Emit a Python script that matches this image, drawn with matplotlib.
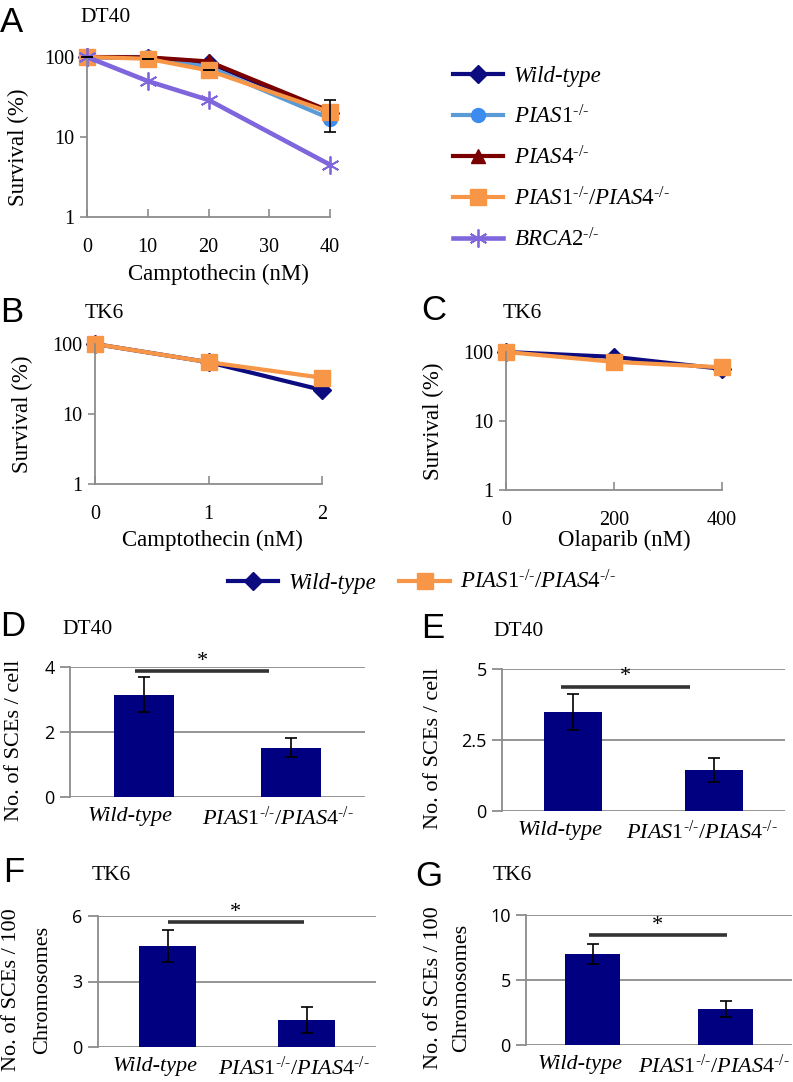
import matplotlib
matplotlib.use("Agg")
import matplotlib.pyplot as plt
from matplotlib.ticker import NullLocator

plt.rcParams["font.family"] = "Liberation Serif"
plt.rcParams["mathtext.fontset"] = "custom"
plt.rcParams["mathtext.rm"] = "Liberation Serif"
plt.rcParams["mathtext.it"] = "Liberation Serif:italic"

# ---- data -------------------------------------------------------------
# A: DT40 camptothecin survival (%)
dose_a = [0, 10, 20, 40]
wt_a = [100, 98, 85, 20]
pias1_a = [100, 100, 75, 17]
pias4_a = [100, 99, 88, 21]
dko_a = [100, 95, 68, 20.4]
dko_a_err = [0, 0, 0, 9]
brca2_a = [100, 50, 29, 4.5]

# B: TK6 camptothecin
dose_b = [0, 1, 2]
wt_b = [100, 55, 22]
dko_b = [100, 55, 33]

# C: TK6 olaparib
dose_c = [0, 200, 400]
wt_c = [100, 85, 57]
dko_c = [100, 72, 60]

# D-G: SCE counts (wild-type, double knockout)
sce_d = [3.15, 1.52]
sce_d_err = [0.53, 0.30]
sce_e = [3.48, 1.45]
sce_e_err = [0.64, 0.42]
sce_f = [4.63, 1.25]
sce_f_err = [0.75, 0.60]
sce_g = [7.0, 2.77]
sce_g_err = [0.77, 0.62]

KO = "^{\\mathit{\u2010/\u2010}}"   # hyphen, not a math minus
WT_LABEL = "Wild-type"
P1_LABEL = r"$\mathit{PIAS1}" + KO + "$"
P4_LABEL = r"$\mathit{PIAS4}" + KO + "$"
DKO_LABEL = r"$\mathit{PIAS1}" + KO + r"\mathit{/PIAS4}" + KO + "$"
BR_LABEL = r"$\mathit{BRCA2}" + KO + "$"
categories = [WT_LABEL, DKO_LABEL]

# ---- styles -------------------------------------------------------------
C_WT = "#0c0c80"
C_P1 = "#5b9bd5"
C_P4 = "#7a0000"
C_DKO = "#f79646"
C_BR = "#7f66dd"
C_BAR = "#000080"
C_AXIS = "#8c8c8c"

W, H = 793, 1082
fig = plt.figure(figsize=(W / 100, H / 100), dpi=100)


def add_ax(l, t, r, b):
    return fig.add_axes([l / W, 1 - b / H, (r - l) / W, (b - t) / H])


def put(x, y, s, **kw):
    kw.setdefault("ha", "center")
    kw.setdefault("va", "center")
    fig.text(x / W, 1 - y / H, s, **kw)


def style_line_ax(ax, xticks, xlim):
    ax.set_yscale("log")
    ax.set_ylim(1, 100)
    ax.set_yticks([1, 10, 100])
    ax.set_yticklabels(["1", "10", "100"])
    ax.yaxis.set_minor_locator(NullLocator())
    ax.set_xlim(*xlim)
    ax.set_xticks(xticks)
    ax.set_xticklabels([str(v) for v in xticks])
    for s in ("top", "right"):
        ax.spines[s].set_visible(False)
    for s in ("left", "bottom"):
        ax.spines[s].set_color(C_AXIS)
        ax.spines[s].set_linewidth(1.3)
    ax.tick_params(axis="x", direction="in", length=6, width=1.2,
                   color=C_AXIS, labelsize=14.5, pad=15)
    ax.tick_params(axis="y", direction="out", length=5, width=1.2,
                   color=C_AXIS, labelsize=14.5, pad=4)
    ax.patch.set_alpha(0)


def line(ax, x, y, color, marker, ms, lw=3.0, **kw):
    return ax.plot(x, y, color=color, lw=lw, marker=marker, ms=ms,
                   clip_on=False, **kw)[0]


LEG_PROP = {"style": "italic", "size": 16.5}

# ---- A ------------------------------------------------------------------
ax_a = add_ax(87, 57, 330, 217)
h_wt = line(ax_a, dose_a, wt_a, C_WT, "D", 9, label=WT_LABEL)
h_p1 = line(ax_a, dose_a, pias1_a, C_P1, "o", 10, mfc="#3c8cf0",
            mec="#3c8cf0", label=P1_LABEL)
h_p4 = line(ax_a, dose_a, pias4_a, C_P4, "^", 10, label=P4_LABEL)
h_dko = line(ax_a, dose_a, dko_a, C_DKO, "s", 11, label=DKO_LABEL)
ax_a.errorbar(dose_a, dko_a, yerr=dko_a_err, fmt="none", ecolor="black",
              elinewidth=1.2, capsize=4, capthick=1.2, clip_on=False,
              zorder=5)
h_br = line(ax_a, dose_a, brca2_a, C_BR, (6, 2, 0), 13, lw=3.3,
            mew=1.3, label=BR_LABEL)
style_line_ax(ax_a, [0, 10, 20, 30, 40], (0, 40))
put(18, 147, "Survival (%)", rotation=90, fontsize=16.5)
put(218, 274, "Camptothecin (nM)", fontsize=16.5)
put(0, 22, "A", ha="left", family="Liberation Sans", fontsize=25)
put(80, 18, "DT40", ha="left", fontsize=15.5)

fig.legend([h_wt, h_p1, h_p4, h_dko, h_br],
           [WT_LABEL, P1_LABEL, P4_LABEL, DKO_LABEL, BR_LABEL],
           loc="upper left", bbox_to_anchor=(453 / W, 1 - 66 / H),
           frameon=False, borderpad=0, borderaxespad=0,
           handlelength=2.2, handletextpad=0.45, labelspacing=0.78,
           prop=LEG_PROP)

# ---- B ------------------------------------------------------------------
ax_b = add_ax(95, 344, 322, 484)
hb_wt = line(ax_b, dose_b, wt_b, C_WT, "D", 9)
hb_dko = line(ax_b, dose_b, dko_b, C_DKO, "s", 11)
style_line_ax(ax_b, dose_b, (0, 2))
put(22, 414, "Survival (%)", rotation=90, fontsize=16.5)
put(212, 540, "Camptothecin (nM)", fontsize=16.5)
put(0, 312, "B", ha="left", family="Liberation Sans", fontsize=25)
put(85, 313, "TK6", ha="left", fontsize=15.5)

# ---- C ------------------------------------------------------------------
ax_c = add_ax(506, 352, 722, 490)
line(ax_c, dose_c, wt_c, C_WT, "D", 9)
line(ax_c, dose_c, dko_c, C_DKO, "s", 11)
style_line_ax(ax_c, dose_c, (0, 400))
put(433, 421, "Survival (%)", rotation=90, fontsize=16.5)
put(624, 540, "Olaparib (nM)", fontsize=16.5)
put(421, 310, "C", ha="left", family="Liberation Sans", fontsize=25)
put(503, 313, "TK6", ha="left", fontsize=15.5)

fig.legend([hb_wt, hb_dko], [WT_LABEL, DKO_LABEL], ncol=2,
           loc="center left", bbox_to_anchor=(228 / W, 1 - 582 / H),
           frameon=False, borderpad=0, borderaxespad=0,
           handlelength=2.2, handletextpad=0.45, columnspacing=1.0,
           prop=LEG_PROP)


# ---- bar panels ---------------------------------------------------------
def bar_panel(box, vals, errs, ymax, yticks, yticklabels, sig, ylab,
              ylab_x, letter, letter_xy, title_xy, title):
    ax = add_ax(*box)
    x = [0, 1]
    ax.bar(x, vals, width=0.41, color=C_BAR, zorder=2,
           yerr=errs, error_kw=dict(ecolor="black", elinewidth=1.2,
                                    capsize=4, capthick=1.2, zorder=3))
    ax.set_xlim(-0.5, 1.5)
    ax.set_ylim(0, ymax)
    ax.set_yticks(yticks)
    ax.set_yticklabels(yticklabels, family="Open Sans")
    ax.yaxis.grid(True, color=C_AXIS, lw=1.3)
    ax.set_axisbelow(True)
    for s in ("top", "right", "bottom"):
        ax.spines[s].set_visible(False)
    ax.spines["left"].set_color(C_AXIS)
    ax.spines["left"].set_linewidth(1.3)
    ax.tick_params(axis="y", length=7, width=1.3, color=C_AXIS,
                   labelsize=13, pad=4)
    # category labels sit a little left of the bar centres in the original
    ax.set_xticks([v - 0.09 for v in x])
    ax.set_xticklabels(categories, fontstyle="italic", fontsize=16)
    ax.tick_params(axis="x", length=0, pad=7)
    ax.patch.set_alpha(0)
    x0, x1, y_sig = sig
    ax.plot([x0, x1], [y_sig, y_sig], color="#333333", lw=2.6,
            clip_on=False, solid_capstyle="butt", zorder=4)
    ax.text((x0 + x1) / 2, y_sig + ymax * 0.07, "*", ha="center",
            va="center", fontsize=16)
    l, t, r, b = box
    if isinstance(ylab, tuple):
        put(ylab_x[0], (t + b) / 2 + 8, ylab[0], rotation=90, fontsize=16)
        put(ylab_x[1], (t + b) / 2 + 8, ylab[1], rotation=90, fontsize=16)
    else:
        put(ylab_x, (t + b) / 2 + 8, ylab, rotation=90, fontsize=16)
    put(letter_xy[0], letter_xy[1], letter, ha="left",
        family="Liberation Sans", fontsize=25)
    put(title_xy[0], title_xy[1], title, ha="left", fontsize=15.5)
    return ax


bar_panel((70, 667, 365, 797), sce_d, sce_d_err, 4, [0, 2, 4],
          ["0", "2", "4"], (-0.06, 0.85, 3.88), "No. of SCEs / cell", 15,
          "D", (0, 627), (62, 630), "DT40")
bar_panel((502, 669, 785, 811), sce_e, sce_e_err, 5, [0, 2.5, 5],
          ["0", "2.5", "5"], (-0.08, 0.83, 4.37), "No. of SCEs / cell", 434,
          "E", (421, 628), (493, 632), "DT40")
bar_panel((98, 916, 376, 1047), sce_f, sce_f_err, 6, [0, 3, 6],
          ["0", "3", "6"], (0.0, 0.98, 5.73),
          ("No. of SCEs / 100", "Chromosomes"), (12, 43),
          "F", (3, 873), (92, 875), "TK6")
bar_panel((526, 915, 792, 1045), sce_g, sce_g_err, 10, [0, 5, 10],
          ["0", "5", "10"], (-0.03, 1.01, 8.46),
          ("No. of SCEs / 100", "Chromosomes"), (433, 462),
          "G", (415, 876), (493, 875), "TK6")

fig.savefig("out.png", dpi=100)
